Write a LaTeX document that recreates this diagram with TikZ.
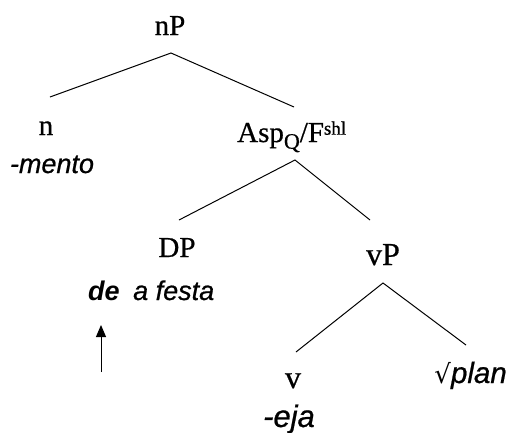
\documentclass[tikz,border=0pt]{standalone}
\usepackage{fontspec}
\usetikzlibrary{arrows.meta}
\setmainfont{Liberation Serif}[FakeBold=0.6,BoldFont=Liberation Serif Bold]
\newfontfamily\wordfont{Liberation Sans}[ItalicFont=Liberation Sans Italic, ItalicFeatures={FakeBold=0.7}, BoldItalicFont=Liberation Sans Bold Italic]
\newfontfamily\symfont{DejaVu Sans}
\begin{document}
\begin{tikzpicture}[x=1pt,y=-1pt,
  cat/.style={inner sep=0pt, anchor=base, font=\fontsize{29}{32}\selectfont},
  bigcat/.style={cat, font=\fontsize{32}{35}\selectfont},
  word/.style={inner sep=0pt, anchor=base, font=\wordfont\itshape\fontsize{27}{30}\selectfont},
  bigword/.style={word, font=\wordfont\itshape\fontsize{31}{34}\selectfont},
  branch/.style={line width=1pt},
  moveArrow/.style={line width=1pt, -{Triangle[width=10pt,length=12pt]}}]
\useasboundingbox (0,0) rectangle (507,432);
% category labels and the words under them
\node[cat] (nP) at (170,35) {nP};
\node[cat] (n) at (46,135) {n};
\node[word] (mento) at (52,173) {-mento};
\node[cat,anchor=base west] (asp) at (237,142) {Asp\raisebox{-0.5ex}{\fontsize{22}{22}\selectfont Q}/F\raisebox{0.55ex}{\fontsize{19}{19}\selectfont shl}};
\node[cat] (DP) at (177,257) {DP};
\node[word,anchor=base west] (de) at (88,300) {\bfseries de};
\node[word,anchor=base west] (festa) at (133,300) {a festa};
\node[bigcat] (vP) at (383,265) {vP};
\node[bigcat] (v) at (293,388) {v};
\node[bigword] (eja) at (289,427) {-eja};
\node[word,font=\wordfont\itshape\fontsize{29.5}{32}\selectfont,anchor=base east] (plan) at (507,383) {{\symfont\fontsize{26}{26}\selectfont √}plan};
% branch points and leaf ends
\coordinate (nPb) at (171,53);
\coordinate (nl) at (50,97);
\coordinate (aspt) at (294,107);
\coordinate (aspb) at (295,160);
\coordinate (dpt) at (179,220);
\coordinate (vpt) at (370,220);
\coordinate (vpb) at (383,283);
\coordinate (vt) at (296,352);
\coordinate (plant) at (466,345);
\coordinate (arrs) at (101,372);
\coordinate (arre) at (101,325);
\draw[branch] (nl) -- (nPb) -- (aspt);
\draw[branch] (dpt) -- (aspb) -- (vpt);
\draw[branch] (vt) -- (vpb) -- (plant);
\draw[moveArrow] (arrs) -- (arre);
\end{tikzpicture}
\end{document}
